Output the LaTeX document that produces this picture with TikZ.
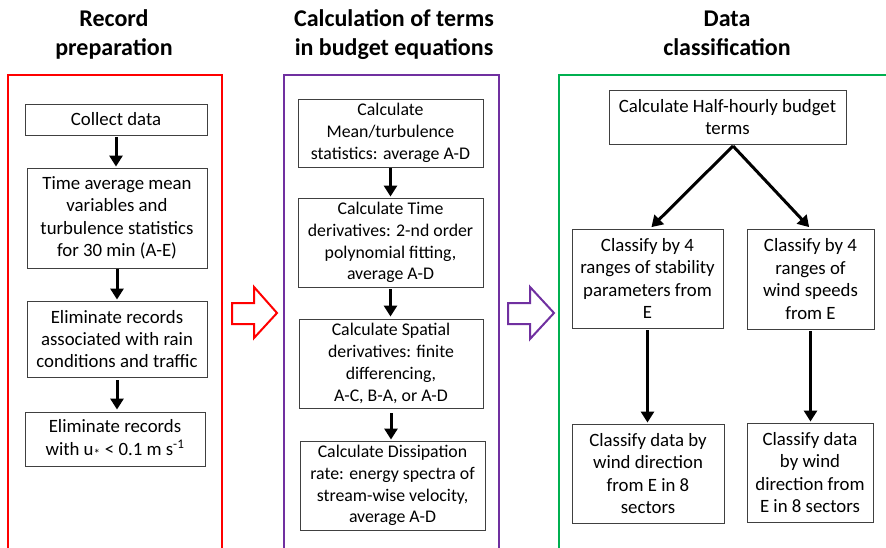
\documentclass[tikz,border=0pt]{standalone}
\usepackage{fontspec}
\setmainfont{Carlito}
\usetikzlibrary{arrows.meta,calc}
\definecolor{fred}{HTML}{FF0000}
\definecolor{fpurple}{HTML}{7030A0}
\definecolor{fgreen}{HTML}{00B050}
\definecolor{boxgrey}{HTML}{404040}
\tikzset{
  title/.style={font=\fontsize{24}{29}\selectfont\bfseries, anchor=base, inner sep=0},
  box/.style={draw=boxgrey, line width=0.9pt, align=center, inner sep=0,
     font=\fontsize{18.8}{22.4}\selectfont},
  pbox/.style={box, font=\fontsize{17.8}{21.7}\selectfont},
  flow/.style={line width=3pt, -{Triangle[width=13pt,length=11pt]}},
  frame/.style={line width=2pt},
}
\begin{document}
\begin{tikzpicture}[x=1pt,y=-1pt]
\useasboundingbox (0,0) rectangle (886,548);
\clip (0,0) rectangle (886,548);
% titles
\node[title] (t1a) at (114,27) {Record};
\node[title] (t1b) at (114,56) {preparation};
\node[title] (t2a) at (394,27) {Calculation of terms};
\node[title] (t2b) at (394,56) {in budget equations};
\node[title] (t3a) at (727,27) {Data};
\node[title] (t3b) at (727,56) {classification};
% frames
\draw[frame, fred] (8,75) rectangle (222,560);
\draw[frame, fpurple] (284,75) rectangle (499,560);
\draw[frame, fgreen] (559,75) rectangle (900,560);
% hollow arrows
\draw[line width=2pt, fred, fill=white] (232,303) -- (254,303) -- (254,287) -- (277,313) -- (254,338) -- (254,324) -- (232,324) -- cycle;
\draw[line width=2pt, fpurple, fill=white] (508,303) -- (530,303) -- (530,287) -- (554,313) -- (530,339) -- (530,324) -- (508,324) -- cycle;
% left column
\node[box, minimum width=182pt, minimum height=31pt] (c1) at (116,119.5) {Collect data};
\node[box, minimum width=180pt, minimum height=100pt] (c2) at (117,218) {Time average mean\\variables and\\turbulence statistics\\for 30 min (A-E)};
\node[box, minimum width=180pt, minimum height=76pt] (c3) at (117,339) {Eliminate records\\associated with rain\\conditions and traffic};
\node[box, minimum width=180pt, minimum height=54pt] (c4) at (115,439) {Eliminate records\\with u\textsubscript{*} < 0.1 m s\textsuperscript{-1}};
\draw[flow, shorten <=2pt, shorten >=1pt] (c1.south) -- (c1.south |- c2.north);
\draw[flow, shorten <=1pt, shorten >=1pt] (c2.south) -- (c2.south |- c3.north);
\draw[flow, shorten <=3pt, shorten >=2pt] (c3.south) -- (c3.south |- c4.north);
% middle column
\node[pbox, minimum width=185pt, minimum height=68pt] (p1) at (390.5,133) {Calculate\\Mean/turbulence\\statistics: average A-D};
\node[pbox, minimum width=185pt, minimum height=89pt] (p2) at (390.5,242.5) {Calculate Time\\derivatives: 2-nd order\\polynomial fitting,\\average A-D};
\node[pbox, minimum width=184pt, minimum height=89pt] (p3) at (391,363.5) {Calculate Spatial\\derivatives: finite\\differencing,\\A-C, B-A, or A-D};
\node[pbox, minimum width=185pt, minimum height=89pt] (p4) at (392.5,485.5) {Calculate Dissipation\\rate: energy spectra of\\stream-wise velocity,\\average A-D};
\draw[flow, shorten <=1pt, shorten >=1pt] (p1.south) -- (p1.south |- p2.north);
\draw[flow, shorten <=2pt, shorten >=2pt] (p2.south) -- (p2.south |- p3.north);
\draw[flow, shorten <=5pt, shorten >=1pt] (p3.south) -- (p3.south |- p4.north);
% right column
\node[box, minimum width=237pt, minimum height=54pt] (g0) at (727.5,117) {Calculate Half-hourly budget\\terms};
\node[box, minimum width=151pt, minimum height=99pt] (g1) at (647.5,278.5) {Classify by 4\\ranges of stability\\parameters from\\E};
\node[box, minimum width=127pt, minimum height=100pt] (g2) at (810.5,279) {Classify by 4\\ranges of\\wind speeds\\from E};
\node[box, minimum width=152pt, minimum height=99pt] (g3) at (648,473.5) {Classify data by\\wind direction\\from E in 8\\sectors};
\node[box, minimum width=126pt, minimum height=99pt] (g4) at (810,472.5) {Classify data\\by wind\\direction from\\E in 8 sectors};
\coordinate (split) at (733,146);
\draw[flow, shorten >=2pt] (split) -- ($(g1.north)+(2.5,0)$);
\draw[flow, shorten >=2pt] (split) -- (g2.north);
\draw[flow, shorten <=2pt, shorten >=1pt] (g1.south) -- (g1.south |- g3.north);
\draw[flow, shorten <=2pt, shorten >=1pt] (g2.south) -- (g2.south |- g4.north);
\end{tikzpicture}
\end{document}
